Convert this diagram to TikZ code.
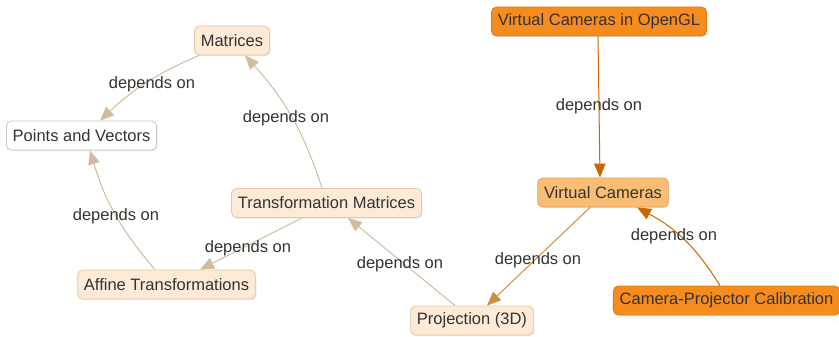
\documentclass[tikz,border=0pt]{standalone}
\usepackage{fontspec}
\setmainfont{Liberation Sans}
\usetikzlibrary{arrows.meta,shadows}
\definecolor{txt}{HTML}{333333}
\definecolor{lightfill}{HTML}{FEEBD7}
\definecolor{lightdraw}{HTML}{E3C8A6}
\definecolor{midfill}{HTML}{F9BE74}
\definecolor{middraw}{HTML}{E3A458}
\definecolor{darkfill}{HTML}{F68B1F}
\definecolor{darkdraw}{HTML}{DE7A12}
\definecolor{tanline}{HTML}{D2BC9F}
\definecolor{midline}{HTML}{D18F3D}
\definecolor{darkline}{HTML}{CA6800}
\begin{document}
\begin{tikzpicture}[x=1pt,y=1pt,
  every node/.style={font=\fontsize{16.5}{19}\selectfont, text=txt},
  concept/.style={rounded corners=5pt, inner xsep=6.3pt, inner ysep=0pt, minimum height=29pt, line width=0.8pt,
     drop shadow={opacity=0.18, shadow xshift=1pt, shadow yshift=-1.2pt}},
  lightbox/.style={concept, fill=lightfill, draw=lightdraw},
  whitebox/.style={concept, fill=white, draw=black!22},
  midbox/.style={concept, fill=midfill, draw=middraw},
  darkbox/.style={concept, fill=darkfill, draw=darkdraw},
  link/.style={line width=1pt, -{Triangle[length=14pt,width=11.5pt]}},
  lbl/.style={inner sep=0pt}
]
\useasboundingbox (0,0) rectangle (839,-337);
\fill[white] (0,0) rectangle (839,-337);

\node[lightbox] (mat) at (232,-40.5) {Matrices};
\node[whitebox] (pv) at (81.5,-135.5) {Points and Vectors};
\node[lightbox] (tm) at (326.5,-203) {Transformation Matrices};
\node[lightbox] (af) at (166.5,-284.5) {Affine Transformations};
\node[lightbox] (pr) at (472,-320.5) {Projection (3D)};
\node[midbox] (vc) at (603,-192.5) {Virtual Cameras};
\node[darkbox] (cpc) at (726.5,-300.5) {Camera-Projector Calibration};
\node[darkbox] (ogl) at (599,-21.5) {Virtual Cameras in OpenGL};

\draw[link, tanline] ([xshift=5pt]mat.south west) to[bend right=10] ([xshift=18.5pt]pv.north);
\draw[link, tanline] ([xshift=-4.5pt]tm.north) to[bend right=12] ([xshift=13pt]mat.south);
\draw[link, tanline] ([xshift=-11.5pt]af.north) to[bend left=12] ([xshift=8.5pt]pv.south);
\draw[link, tanline] ([xshift=-24.5pt]tm.south) -- ([xshift=33.5pt]af.north);
\draw[link, tanline] ([xshift=-17pt]pr.north) -- ([xshift=21.5pt]tm.south);
\draw[link, midline] ([xshift=-13pt]vc.south) -- ([xshift=15pt]pr.north);
\draw[link, darkline] ([xshift=-1pt]ogl.south) -- ([xshift=-3pt]vc.north);
\draw[link, darkline] ([xshift=-6.5pt]cpc.north) to[bend right=15] ([xshift=34pt]vc.south);

\node[lbl] (l1) at (152,-84) {depends on};
\node[lbl] (l2) at (286,-118) {depends on};
\node[lbl] (l3) at (116,-216) {depends on};
\node[lbl] (l4) at (248,-248) {depends on};
\node[lbl] (l5) at (400,-264) {depends on};
\node[lbl] (l6) at (538,-260) {depends on};
\node[lbl] (l7) at (599,-106) {depends on};
\node[lbl] (l8) at (674,-236) {depends on};
\end{tikzpicture}
\end{document}
